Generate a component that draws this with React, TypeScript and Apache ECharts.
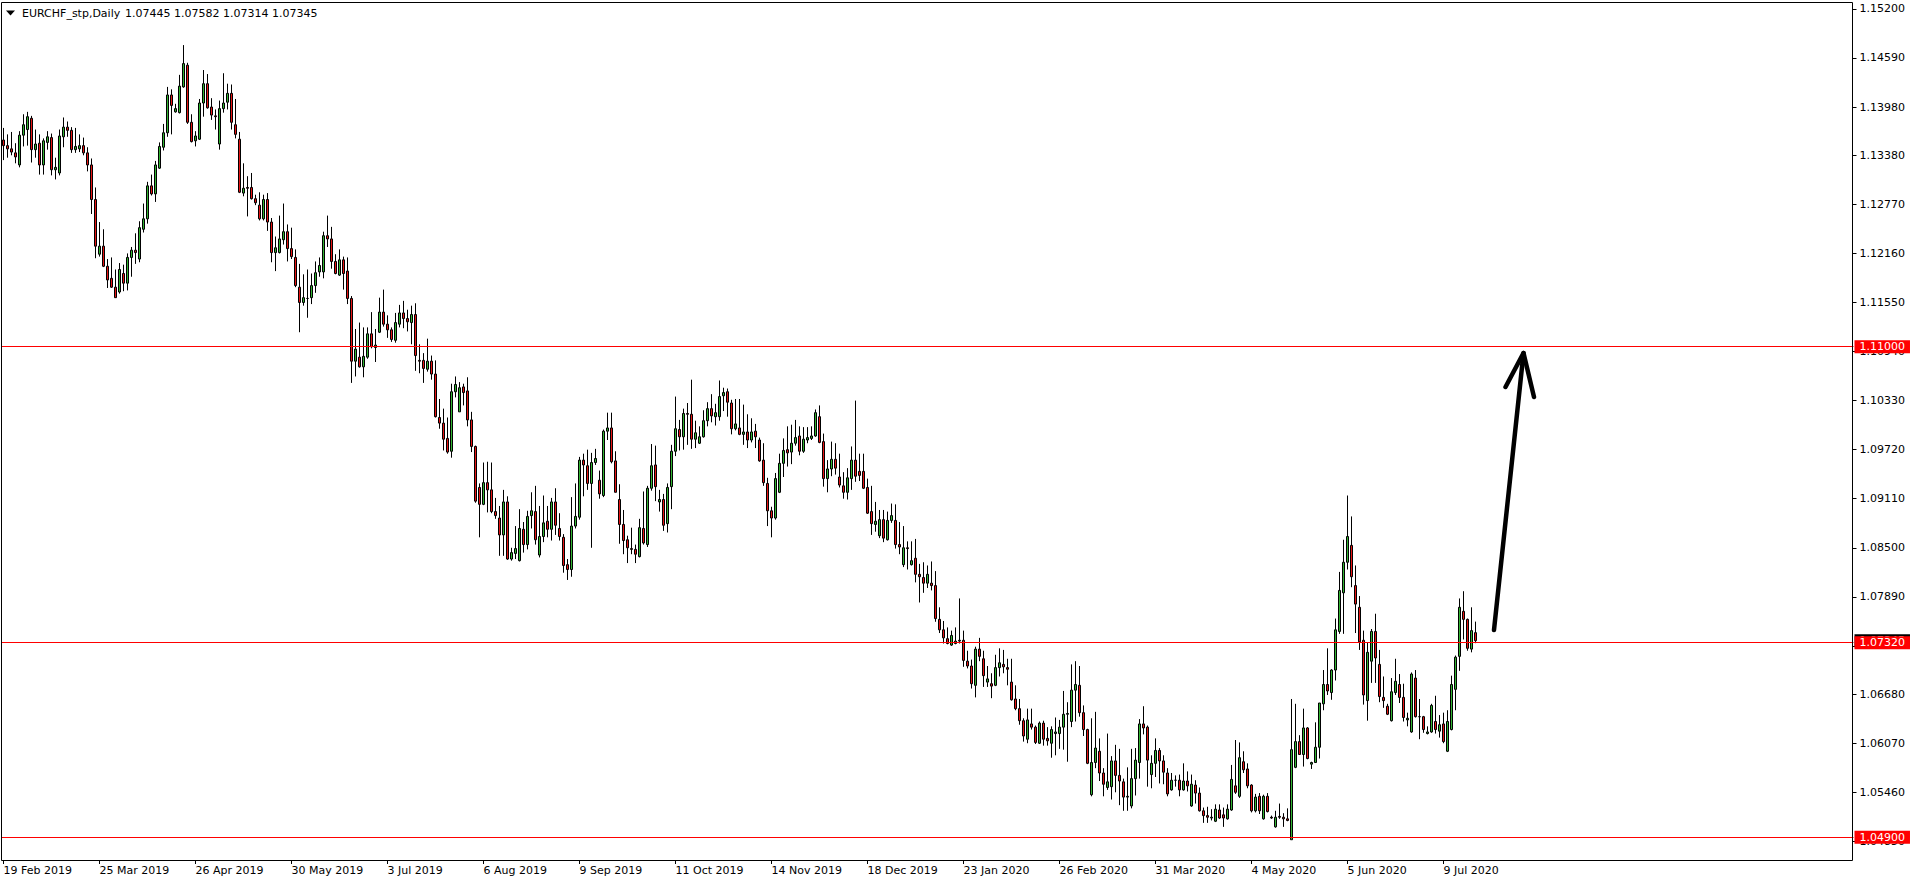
import React, { useEffect, useRef } from "react";
import * as echarts from "echarts";

// ---- data ----
const opens = [
  1.1357,1.1350,1.1346,1.1341,1.1326,1.1363,1.1370,1.1384,1.1345,1.1353,
  1.1326,1.1354,1.1360,1.1320,1.1316,1.1361,1.1373,1.1369,1.1345,1.1346,
  1.1350,1.1341,1.1326,1.1283,1.1215,1.1225,1.1200,1.1185,1.1174,1.1168,
  1.1191,1.1179,1.1211,1.1220,1.1209,1.1246,1.1259,1.1300,1.1290,1.1322,
  1.1348,1.1366,1.1413,1.1392,1.1391,1.1423,1.1450,1.1379,1.1356,1.1358,
  1.1403,1.1427,1.1398,1.1387,1.1352,1.1396,1.1404,1.1415,1.1376,1.1358,
  1.1291,1.1298,1.1298,1.1284,1.1276,1.1259,1.1283,1.1255,1.1217,1.1217,
  1.1233,1.1243,1.1222,1.1211,1.1174,1.1155,1.1160,1.1161,1.1176,1.1193,
  1.1193,1.1238,1.1234,1.1206,1.1189,1.1208,1.1194,1.1160,1.1082,1.1087,
  1.1075,1.1087,1.1116,1.1099,1.1118,1.1143,1.1128,1.1121,1.1108,1.1128,
  1.1142,1.1135,1.1130,1.1140,1.1083,1.1083,1.1072,1.1082,1.1066,1.1012,
  1.1005,1.0986,1.0970,1.1044,1.1019,1.1050,1.1045,1.1009,1.0976,1.0925,
  1.0904,1.0931,1.0922,1.0895,1.0887,1.0866,1.0907,1.0836,1.0843,1.0834,
  1.0873,1.0854,1.0890,1.0895,1.0841,1.0864,1.0883,1.0873,1.0907,1.0874,
  1.0863,1.0829,1.0823,1.0877,1.0888,1.0959,1.0952,1.0930,1.0956,1.0934,
  1.0915,1.0995,1.0999,1.0958,1.0910,1.0879,1.0860,1.0849,1.0848,1.0839,
  1.0874,1.0854,1.0924,1.0953,1.0907,1.0910,1.0880,1.0926,1.0970,1.0997,
  1.0988,1.1017,1.1016,1.0985,1.0980,1.0988,1.1008,1.1023,1.1013,1.1013,
  1.1039,1.1044,1.1030,1.0998,1.0999,1.0991,1.0994,1.0984,1.0995,1.0984,
  1.0959,1.0930,1.0896,1.0887,1.0919,1.0955,1.0972,1.0969,1.0980,1.0989,
  1.0970,1.0984,1.0986,1.0989,1.1013,1.0982,1.0936,1.0948,1.0960,1.0938,
  1.0927,1.0919,1.0936,1.0959,1.0945,1.0945,1.0925,1.0895,1.0879,1.0865,
  1.0885,1.0860,1.0884,1.0884,1.0854,1.0829,1.0850,1.0829,1.0837,1.0817,
  1.0813,1.0806,1.0806,1.0803,1.0761,1.0748,1.0737,1.0729,1.0731,1.0734,
  1.0735,1.0709,1.0703,1.0679,1.0724,1.0712,1.0683,1.0681,1.0679,1.0701,
  1.0705,1.0701,1.0683,1.0662,1.0650,1.0635,1.0612,1.0631,1.0627,1.0607,
  1.0632,1.0613,1.0607,1.0619,1.0619,1.0627,1.0643,1.0634,1.0673,1.0679,
  1.0645,1.0624,1.0543,1.0583,1.0597,1.0570,1.0552,1.0553,1.0585,1.0567,
  1.0559,1.0540,1.0529,1.0563,1.0583,1.0631,1.0627,1.0568,1.0582,1.0598,
  1.0585,1.0570,1.0549,1.0561,1.0561,1.0549,1.0560,1.0529,1.0555,1.0545,
  1.0523,1.0517,1.0514,1.0510,1.0524,1.0518,1.0513,1.0524,1.0554,1.0541,
  1.0584,1.0575,1.0555,1.0523,1.0541,1.0513,1.0541,1.0515,1.0503,1.0516,
  1.0515,1.0513,1.0487,1.0577,1.0609,1.0593,1.0626,1.0581,1.0583,1.0602,
  1.0656,1.0680,1.0670,1.0698,1.0746,1.0794,1.0832,1.0853,1.0803,1.0776,
  1.0735,1.0660,1.0709,1.0746,1.0705,1.0664,1.0653,1.0635,1.0670,1.0680,
  1.0664,1.0636,1.0621,1.0688,1.0640,1.0640,1.0619,1.0621,1.0634,1.0622,
  1.0631,1.0597,1.0624,1.0674,1.0715,1.0771,1.0761,1.0724,1.07445,
];
const highs = [
  1.1372,1.1364,1.1367,1.1353,1.1368,1.1389,1.1392,1.1387,1.1370,1.1364,
  1.1359,1.1368,1.1365,1.1335,1.1370,1.1385,1.1380,1.1373,1.1372,1.1364,
  1.1360,1.1348,1.1334,1.1298,1.1255,1.1246,1.1209,1.1211,1.1196,1.1204,
  1.1202,1.1216,1.1224,1.1241,1.1256,1.1278,1.1305,1.1314,1.1331,1.1354,
  1.1377,1.1423,1.1420,1.1402,1.1438,1.1475,1.1453,1.1389,1.1368,1.1408,
  1.1444,1.1439,1.1409,1.1395,1.1406,1.1440,1.1427,1.1426,1.1408,1.1367,
  1.1328,1.1312,1.1316,1.1289,1.1292,1.1289,1.1291,1.1260,1.1237,1.1263,
  1.1278,1.1252,1.1248,1.1221,1.1203,1.1190,1.1196,1.1191,1.1206,1.1211,
  1.1243,1.1263,1.1249,1.1215,1.1221,1.1212,1.1211,1.1163,1.1122,1.1130,
  1.1124,1.1124,1.1143,1.1122,1.1161,1.1171,1.1139,1.1124,1.1142,1.1152,
  1.1157,1.1146,1.1151,1.1154,1.1103,1.1092,1.1110,1.1089,1.1083,1.1035,
  1.1023,1.1012,1.1054,1.1063,1.1056,1.1054,1.1062,1.1019,1.0977,1.0930,
  1.0956,1.0957,1.0956,1.0912,1.0902,1.0922,1.0914,1.0850,1.0877,1.0898,
  1.0882,1.0896,1.0919,1.0927,1.0902,1.0915,1.0902,1.0912,1.0924,1.0893,
  1.0867,1.0836,1.0913,1.0930,1.0963,1.0967,1.0972,1.0968,1.0973,1.0946,
  1.0997,1.1018,1.1018,1.0970,1.0929,1.0897,1.0865,1.0875,1.0854,1.0886,
  1.0920,1.0927,1.0979,1.0977,1.0922,1.0917,1.0930,1.0978,1.1038,1.1009,
  1.1023,1.1030,1.1059,1.1008,1.1001,1.1021,1.1031,1.1041,1.1029,1.1058,
  1.1049,1.1048,1.1034,1.1035,1.1035,1.1028,1.1016,1.1011,1.1004,1.0987,
  1.0980,1.0937,1.0901,1.0943,1.0967,1.0986,1.1001,1.1003,1.1009,1.1001,
  1.1000,1.1000,1.1001,1.1022,1.1027,1.0992,1.0959,1.0982,1.0980,1.0967,
  1.0944,1.0949,1.0976,1.1033,1.0967,1.0967,1.0936,1.0927,1.0907,1.0897,
  1.0897,1.0895,1.0905,1.0904,1.0882,1.0877,1.0858,1.0858,1.0861,1.0830,
  1.0832,1.0828,1.0833,1.0821,1.0776,1.0759,1.0751,1.0747,1.0751,1.0787,
  1.0747,1.0722,1.0711,1.0727,1.0738,1.0722,1.0703,1.0694,1.0717,1.0725,
  1.0723,1.0712,1.0712,1.0679,1.0662,1.0638,1.0650,1.0650,1.0629,1.0634,
  1.0635,1.0627,1.0628,1.0639,1.0636,1.0672,1.0658,1.0705,1.0709,1.0703,
  1.0654,1.0625,1.0638,1.0646,1.0613,1.0576,1.0619,1.0591,1.0605,1.0600,
  1.0563,1.0577,1.0600,1.0601,1.0637,1.0653,1.0629,1.0592,1.0613,1.0601,
  1.0592,1.0576,1.0570,1.0567,1.0568,1.0582,1.0572,1.0568,1.0561,1.0552,
  1.0527,1.0528,1.0525,1.0531,1.0531,1.0527,1.0531,1.0580,1.0611,1.0608,
  1.0597,1.0582,1.0556,1.0544,1.0545,1.0543,1.0545,1.0517,1.0523,1.0532,
  1.0520,1.0526,1.0662,1.0656,1.0617,1.0650,1.0627,1.0584,1.0633,1.0657,
  1.0698,1.0725,1.0699,1.0762,1.0820,1.0860,1.0915,1.0889,1.0828,1.0790,
  1.0747,1.0732,1.0749,1.0768,1.0723,1.0690,1.0656,1.0688,1.0712,1.0693,
  1.0681,1.0645,1.0695,1.0698,1.0662,1.0641,1.0628,1.0656,1.0666,1.0642,
  1.0645,1.0648,1.0691,1.0716,1.0787,1.0796,1.0762,1.0776,1.07582,
];
const lows = [
  1.1332,1.1335,1.1338,1.1328,1.1323,1.1349,1.1350,1.1329,1.1335,1.1314,
  1.1314,1.1345,1.1313,1.1308,1.1313,1.1348,1.1361,1.1341,1.1341,1.1342,
  1.1338,1.1318,1.1265,1.1210,1.1212,1.1199,1.1173,1.1173,1.1161,1.1166,
  1.1169,1.1170,1.1187,1.1203,1.1205,1.1242,1.1253,1.1288,1.1280,1.1321,
  1.1344,1.1361,1.1364,1.1391,1.1390,1.1422,1.1377,1.1354,1.1349,1.1357,
  1.1386,1.1396,1.1382,1.1370,1.1345,1.1391,1.1395,1.1370,1.1359,1.1291,
  1.1287,1.1262,1.1283,1.1276,1.1257,1.1257,1.1244,1.1205,1.1194,1.1216,
  1.1227,1.1206,1.1209,1.1174,1.1118,1.1151,1.1136,1.1153,1.1167,1.1187,
  1.1185,1.1224,1.1197,1.1190,1.1188,1.1171,1.1153,1.1055,1.1063,1.1074,
  1.1062,1.1085,1.1098,1.1081,1.1117,1.1125,1.1111,1.1106,1.1105,1.1124,
  1.1123,1.1119,1.1103,1.1070,1.1067,1.1055,1.1069,1.1059,1.1012,1.0998,
  1.0971,1.0967,1.0962,1.1037,1.1019,1.1027,1.1001,1.0969,1.0906,1.0863,
  1.0903,1.0894,1.0893,1.0886,1.0840,1.0840,1.0835,1.0834,1.0836,1.0833,
  1.0844,1.0848,1.0874,1.0854,1.0838,1.0857,1.0863,1.0859,1.0866,1.0859,
  1.0819,1.0810,1.0814,1.0874,1.0885,1.0914,1.0922,1.0850,1.0953,1.0911,
  1.0913,1.0984,1.0955,1.0919,1.0855,1.0842,1.0831,1.0842,1.0831,1.0838,
  1.0854,1.0851,1.0921,1.0908,1.0895,1.0871,1.0869,1.0898,1.0964,1.0971,
  1.0972,1.0978,1.0973,1.0974,1.0979,1.0987,1.1001,1.1006,1.1002,1.1008,
  1.1020,1.1013,1.0991,1.0996,1.0990,1.0978,1.0974,1.0981,1.0974,1.0957,
  1.0927,1.0877,1.0863,1.0885,1.0918,1.0938,1.0951,1.0954,1.0977,1.0965,
  1.0968,1.0980,1.0984,1.0988,1.0980,1.0926,1.0919,1.0939,1.0941,1.0925,
  1.0911,1.0910,1.0922,1.0932,1.0933,1.0923,1.0892,1.0866,1.0870,1.0862,
  1.0857,1.0859,1.0881,1.0849,1.0842,1.0826,1.0823,1.0828,1.0807,1.0782,
  1.0794,1.0800,1.0797,1.0758,1.0744,1.0731,1.0730,1.0728,1.0730,1.0731,
  1.0702,1.0700,1.0675,1.0664,1.0709,1.0677,1.0677,1.0663,1.0678,1.0690,
  1.0694,1.0679,1.0660,1.0648,1.0630,1.0609,1.0607,1.0624,1.0606,1.0606,
  1.0604,1.0604,1.0589,1.0592,1.0600,1.0599,1.0584,1.0627,1.0634,1.0640,
  1.0616,1.0581,1.0541,1.0576,1.0560,1.0541,1.0549,1.0537,1.0546,1.0530,
  1.0523,1.0523,1.0526,1.0542,1.0563,1.0618,1.0553,1.0551,1.0565,1.0557,
  1.0556,1.0541,1.0548,1.0553,1.0541,1.0548,1.0547,1.0528,1.0532,1.0522,
  1.0508,1.0508,1.0511,1.0509,1.0513,1.0503,1.0512,1.0523,1.0544,1.0539,
  1.0570,1.0551,1.0521,1.0521,1.0519,1.0512,1.0521,1.0513,1.0502,1.0513,
  1.0503,1.0510,1.0487,1.0576,1.0593,1.0578,1.0587,1.0575,1.0583,1.0588,
  1.0648,1.0667,1.0661,1.0685,1.0743,1.0743,1.0823,1.0801,1.0744,1.0723,
  1.0655,1.0635,1.0682,1.0682,1.0658,1.0651,1.0642,1.0634,1.0667,1.0657,
  1.0634,1.0628,1.0620,1.0639,1.0612,1.0620,1.0618,1.0620,1.0619,1.0614,
  1.0607,1.0596,1.0623,1.0648,1.0697,1.0736,1.0722,1.0720,1.07314,
];
const closes = [
  1.1350,1.1346,1.1342,1.1336,1.1363,1.1376,1.1386,1.1345,1.1352,1.1326,
  1.1356,1.1361,1.1320,1.1323,1.1362,1.1373,1.1369,1.1345,1.1349,1.1350,
  1.1341,1.1326,1.1283,1.1225,1.1225,1.1200,1.1183,1.1174,1.1161,1.1196,
  1.1179,1.1211,1.1220,1.1217,1.1248,1.1259,1.1300,1.1290,1.1326,1.1349,
  1.1366,1.1413,1.1400,1.1396,1.1424,1.1452,1.1379,1.1355,1.1362,1.1403,
  1.1427,1.1397,1.1388,1.1386,1.1396,1.1403,1.1415,1.1379,1.1364,1.1292,
  1.1297,1.1297,1.1284,1.1279,1.1259,1.1283,1.1255,1.1217,1.1223,1.1234,
  1.1243,1.1222,1.1212,1.1176,1.1155,1.1161,1.1160,1.1176,1.1192,1.1201,
  1.1238,1.1234,1.1206,1.1191,1.1208,1.1191,1.1160,1.1082,1.1097,1.1075,
  1.1088,1.1116,1.1100,1.1102,1.1143,1.1128,1.1121,1.1109,1.1130,1.1142,
  1.1135,1.1131,1.1140,1.1089,1.1082,1.1073,1.1082,1.1066,1.1013,1.1005,
  1.0985,1.0969,1.1044,1.1053,1.1049,1.1043,1.1009,1.0976,1.0908,1.0904,
  1.0931,1.0922,1.0895,1.0890,1.0866,1.0907,1.0836,1.0844,1.0849,1.0874,
  1.0854,1.0889,1.0896,1.0860,1.0864,1.0881,1.0873,1.0907,1.0878,1.0864,
  1.0828,1.0823,1.0877,1.0889,1.0959,1.0953,1.0930,1.0956,1.0961,1.0917,
  1.0995,1.0999,1.0957,1.0919,1.0879,1.0859,1.0850,1.0848,1.0842,1.0875,
  1.0856,1.0924,1.0952,1.0926,1.0910,1.0878,1.0925,1.0970,1.0998,1.0988,
  1.1017,1.1016,1.0985,1.0993,1.0988,1.1008,1.1023,1.1014,1.1018,1.1038,
  1.1043,1.1031,1.0998,1.1004,1.0991,1.0994,1.0984,1.0994,1.0988,1.0958,
  1.0931,1.0896,1.0887,1.0936,1.0955,1.0971,1.0968,1.0980,1.0987,1.0970,
  1.0985,1.0987,1.0989,1.1018,1.0981,1.0936,1.0948,1.0960,1.0949,1.0928,
  1.0919,1.0937,1.0959,1.0939,1.0940,1.0924,1.0893,1.0880,1.0883,1.0885,
  1.0862,1.0884,1.0890,1.0854,1.0851,1.0850,1.0849,1.0834,1.0817,1.0814,
  1.0806,1.0817,1.0803,1.0762,1.0748,1.0738,1.0731,1.0741,1.0734,1.0735,
  1.0710,1.0703,1.0681,1.0724,1.0715,1.0691,1.0687,1.0678,1.0701,1.0707,
  1.0702,1.0699,1.0661,1.0650,1.0635,1.0616,1.0636,1.0627,1.0608,1.0632,
  1.0612,1.0610,1.0624,1.0621,1.0627,1.0643,1.0644,1.0673,1.0680,1.0645,
  1.0624,1.0582,1.0583,1.0601,1.0570,1.0556,1.0559,1.0585,1.0567,1.0560,
  1.0540,1.0541,1.0563,1.0586,1.0631,1.0626,1.0586,1.0582,1.0598,1.0585,
  1.0571,1.0544,1.0561,1.0561,1.0549,1.0560,1.0554,1.0556,1.0545,1.0523,
  1.0517,1.0515,1.0515,1.0525,1.0514,1.0514,1.0525,1.0562,1.0546,1.0589,
  1.0574,1.0554,1.0523,1.0540,1.0523,1.0541,1.0522,1.0514,1.0515,1.0515,
  1.0513,1.0511,1.0599,1.0609,1.0593,1.0626,1.0588,1.0583,1.0602,1.0657,
  1.0680,1.0672,1.0698,1.0748,1.0797,1.0832,1.0864,1.0814,1.0780,1.0733,
  1.0667,1.0720,1.0746,1.0713,1.0665,1.0660,1.0643,1.0671,1.0684,1.0664,
  1.0639,1.0638,1.0693,1.0640,1.0640,1.0624,1.0621,1.0654,1.0624,1.0630,
  1.0609,1.0634,1.0680,1.0714,1.0776,1.0761,1.0725,1.0747,1.07345,
];

const yTickValues = [
  1.152, 1.1459, 1.1398, 1.1338, 1.1277, 1.1216, 1.1155, 1.1094, 1.1033,
  1.0972, 1.0911, 1.085, 1.0789, 1.0728, 1.0668, 1.0607, 1.0546, 1.0485,
];
const levelLines = [1.11, 1.0732, 1.049];
const bidPrice = 1.07345;
const symbolTitle = "EURCHF_stp,Daily";
const ohlcTitle = "1.07445 1.07582 1.07314 1.07345";
const MONTHS = ["Jan","Feb","Mar","Apr","May","Jun","Jul","Aug","Sep","Oct","Nov","Dec"];
const TOTAL_SLOTS = 463; // bar slots visible across the chart (incl. empty right shift)
const LABEL_EVERY = 24;

function buildDates(count: number): string[] {
  const out: string[] = [];
  const d = new Date(Date.UTC(2019, 1, 19));
  while (out.length < count) {
    const wd = d.getUTCDay();
    const m = d.getUTCMonth();
    const day = d.getUTCDate();
    const holiday = (m === 11 && day === 25) || (m === 0 && day === 1);
    if (wd !== 0 && wd !== 6 && !holiday) {
      out.push(`${day} ${MONTHS[m]} ${d.getUTCFullYear()}`);
    }
    d.setUTCDate(day + 1);
  }
  return out;
}

const FONT = "DejaVu Sans";

export default function App() {
  const ref = useRef<HTMLDivElement>(null);
  useEffect(() => {
    if (!ref.current) return;
    const chart = echarts.init(ref.current, undefined, { renderer: "svg" });
    const n = opens.length;
    const dates = buildDates(n);
    const cats: string[] = [];
    for (let i = 0; i < TOTAL_SLOTS; i++) cats.push(i < n ? dates[i] : "");
    const data = opens.map((o, i) => [o, closes[i], lows[i], highs[i]]);

    const gridTop = 3;
    const gridHeight = 857;
    const pxPerUnit = 8043;
    const yMax = 1.152 + (8.9 - gridTop) / pxPerUnit;
    const yMin = yMax - gridHeight / pxPerUnit;

    const showIdx = (i: number) => i % LABEL_EVERY === 0 && i < n;

    chart.setOption({
      animation: false,
      backgroundColor: "#ffffff",
      grid: { left: 1.5, top: gridTop, width: 1852, height: gridHeight },
      xAxis: {
        type: "category",
        data: cats,
        boundaryGap: true,
        axisLine: { show: false },
        axisTick: {
          show: true,
          alignWithLabel: true,
          interval: (i: number) => showIdx(i),
          length: 4,
          lineStyle: { color: "#000", width: 1 },
        },
        axisLabel: {
          interval: (i: number) => showIdx(i),
          align: "left",
          margin: 5,
          color: "#000",
          fontFamily: FONT,
          fontSize: 11,
        },
        splitLine: { show: false },
      },
      yAxis: {
        type: "value",
        position: "right",
        min: yMin,
        max: yMax,
        offset: -1,
        axisLine: { show: false },
        axisTick: {
          show: true,
          customValues: yTickValues,
          length: 4,
          lineStyle: { color: "#000", width: 1 },
        },
        axisLabel: {
          customValues: yTickValues,
          formatter: (v: number) => v.toFixed(5),
          margin: 7,
          color: "#000",
          fontFamily: FONT,
          fontSize: 11,
        },
        splitLine: { show: false },
      },
      series: [
        {
          type: "candlestick",
          data,
          barWidth: 2,
          itemStyle: {
            color: "#32b432",
            color0: "#e61414",
            borderColor: "#000000",
            borderColor0: "#000000",
            borderWidth: 1,
          },
          markLine: {
            silent: true,
            precision: 5,
            symbol: ["none", "none"],
            animation: false,
            lineStyle: { color: "#ff0000", width: 1, type: "solid" },
            label: {
              show: true,
              position: "end",
              distance: 1,
              formatter: (p: any) => Number(p.value).toFixed(5),
              backgroundColor: "#ff0000",
              color: "#ffffff",
              fontFamily: FONT,
              fontSize: 11,
              padding: [1, 5, 1, 5],
            },
            data: [
              {
                yAxis: bidPrice,
                lineStyle: { color: "rgba(0,0,0,0)" },
                label: { backgroundColor: "#000000", color: "#ffffff" },
              },
              ...levelLines.map((v) => ({ yAxis: v })),
            ],
          },
        },
      ],
      graphic: [
        {
          type: "rect",
          shape: { x: 1.5, y: 2.5, width: 1851, height: 858 },
          style: { fill: "none", stroke: "#000", lineWidth: 1 },
          silent: true,
          z: 10,
        },
        {
          type: "polygon",
          shape: { points: [[6, 10.5], [15, 10.5], [10.5, 15.5]] },
          style: { fill: "#000" },
          silent: true,
          z: 10,
        },
        {
          type: "text",
          x: 22,
          y: 13.5,
          style: { text: symbolTitle, fill: "#000", font: `11px "${FONT}"`, verticalAlign: "middle" },
          silent: true,
          z: 10,
        },
        {
          type: "text",
          x: 125,
          y: 13.5,
          style: { text: ohlcTitle, fill: "#000", font: `11px "${FONT}"`, verticalAlign: "middle" },
          silent: true,
          z: 10,
        },
        {
          type: "polyline",
          shape: { points: [[1494, 630], [1523.5, 353]] },
          style: { stroke: "#000", lineWidth: 4.5, lineCap: "round", fill: "none" },
          silent: true,
          z: 10,
        },
        {
          type: "polyline",
          shape: { points: [[1505.5, 387], [1523.5, 353], [1534, 397]] },
          style: { stroke: "#000", lineWidth: 4.5, lineCap: "round", lineJoin: "round", fill: "none" },
          silent: true,
          z: 10,
        },
      ],
    });
    return () => chart.dispose();
  }, []);
  return (
    <div
      ref={ref}
      style={{ position: "absolute", left: 0, top: 0, width: 1916, height: 884, background: "#fff" }}
    />
  );
}
